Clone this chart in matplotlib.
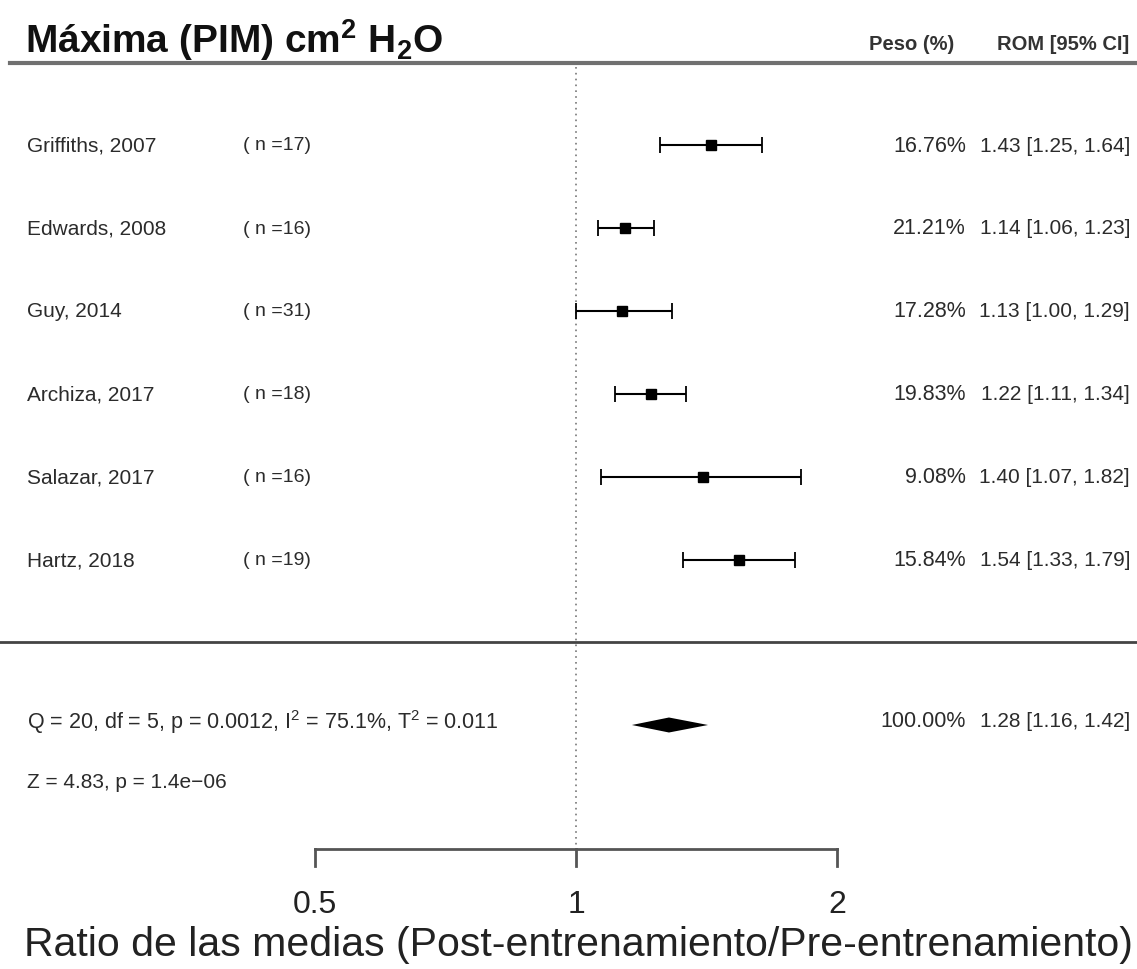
import numpy as np
import matplotlib
matplotlib.use("Agg")
import matplotlib.pyplot as plt
from matplotlib.transforms import blended_transform_factory

plt.rcParams['font.family'] = ['Liberation Sans', 'DejaVu Sans']
plt.rcParams['mathtext.fontset'] = 'custom'
plt.rcParams['mathtext.rm'] = 'Liberation Sans'
plt.rcParams['mathtext.bf'] = 'Liberation Sans:bold'

# datos del meta-análisis
estudios = ["Griffiths, 2007", "Edwards, 2008", "Guy, 2014",
            "Archiza, 2017", "Salazar, 2017", "Hartz, 2018"]
n_sujetos = [17, 16, 31, 18, 16, 19]
pesos = [16.76, 21.21, 17.28, 19.83, 9.08, 15.84]
rom = [1.43, 1.14, 1.13, 1.22, 1.40, 1.54]
ic_inf = [1.25, 1.06, 1.00, 1.11, 1.07, 1.33]
ic_sup = [1.64, 1.23, 1.29, 1.34, 1.82, 1.79]

rom_total = 1.28
ic_total = (1.16, 1.42)
peso_total = 100.00

texto_het = r"Q = 20, df = 5, p = 0.0012, I$^2$ = 75.1%, T$^2$ = 0.011"
texto_z = "Z = 4.83, p = 1.4e\u221206"
ticks = [0.5, 1, 2]
ticks_txt = ["0.5", "1", "2"]

W, H = 1137, 970
fig = plt.figure(figsize=(W / 100, H / 100), dpi=100)
ax = fig.add_axes([0, 0, 1, 1])
ax.set_xscale('log', base=2)
# 261 px por duplicación, el 1 en x=576
ax.set_xlim(2 ** (-576 / 261), 2 ** ((W - 576) / 261))
ax.set_ylim(H, 0)
ax.axis('off')

tr = blended_transform_factory(ax.transAxes, ax.transData)
def fx(px):
    return px / W

txt_col = '#2b2b2b'

# titulo y encabezados
ax.text(fx(25), 40, r"Máxima (PIM) cm$^\mathbf{2}$ H$_\mathbf{2}$O", transform=tr,
        fontsize=28, fontweight='bold', va='center', ha='left', color='#111')
ax.text(fx(912), 44, "Peso (%)", transform=tr, fontsize=14.5, fontweight='bold',
        va='center', ha='center', color='#333')
ax.text(fx(1129), 44, "ROM [95% CI]", transform=tr, fontsize=14.5, fontweight='bold',
        va='center', ha='right', color='#333')
ax.plot([fx(10), 1], [64, 64], transform=tr, color='#707070', lw=3)

# linea de no efecto
ax.plot([1, 1], [68, 850], color='#777', lw=1.2, ls=(0, (1, 2.5)))

y0, paso = 146, 83
for i in range(len(estudios)):
    y = y0 + paso * i
    ax.text(fx(27), y, estudios[i], transform=tr, fontsize=15, va='center',
            ha='left', color=txt_col)
    ax.text(fx(243), y, f"( n ={n_sujetos[i]})", transform=tr, fontsize=14,
            va='center', ha='left', color=txt_col)
    ax.errorbar(rom[i], y, xerr=[[rom[i] - ic_inf[i]], [ic_sup[i] - rom[i]]],
                fmt='none', ecolor='black', elinewidth=1.5, capsize=6, capthick=1.3)
    ax.plot(rom[i], y, marker='s', ms=7.5, color='black', mec='black')
    ax.text(fx(966), y, f"{pesos[i]:.2f}%", transform=tr, fontsize=15.5,
            va='center', ha='right', color=txt_col)
    ax.text(fx(1130), y, f"{rom[i]:.2f} [{ic_inf[i]:.2f}, {ic_sup[i]:.2f}]",
            transform=tr, fontsize=15, va='center', ha='right', color=txt_col)

# separador y resumen
y_sep = 643
ax.plot([0, 1], [y_sep, y_sep], transform=tr, color='#444', lw=2)

y_res = y_sep + paso
ax.fill([ic_total[0], rom_total, ic_total[1], rom_total],
        [y_res, y_res - 7.5, y_res, y_res + 7.5], color='black', lw=0)
ax.text(fx(27), y_res - 4, texto_het, transform=tr, fontsize=15.5, va='center',
        ha='left', color=txt_col)
ax.text(fx(27), 783, texto_z, transform=tr, fontsize=15, va='center',
        ha='left', color=txt_col)
ax.text(fx(966), y_res - 4, f"{peso_total:.2f}%", transform=tr, fontsize=15.5,
        va='center', ha='right', color=txt_col)
ax.text(fx(1130), y_res - 4,
        f"{rom_total:.2f} [{ic_total[0]:.2f}, {ic_total[1]:.2f}]",
        transform=tr, fontsize=15, va='center', ha='right', color=txt_col)

# eje x dibujado a mano
y_eje = 850
ax.plot([ticks[0], ticks[-1]], [y_eje, y_eje], color='#555', lw=2)
for t, lab in zip(ticks, ticks_txt):
    ax.plot([t, t], [y_eje, y_eje + 17], color='#555', lw=2)
    ax.text(t, 905, lab, fontsize=23, ha='center', va='center', color='#222')
ax.text(fx(578), 945, "Ratio de las medias (Post-entrenamiento/Pre-entrenamiento)",
        transform=tr, fontsize=29.5, ha='center', va='center', color='#222')

fig.savefig("out.png", dpi=100, facecolor='white')
